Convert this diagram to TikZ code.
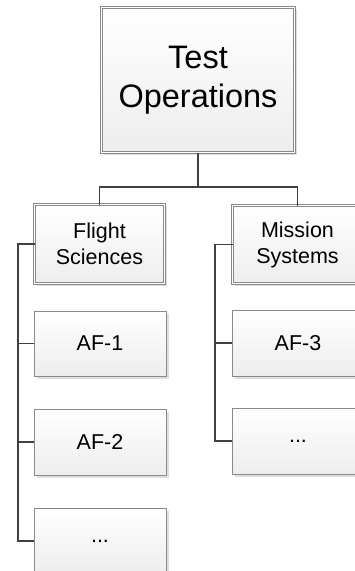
\documentclass[tikz,border=0pt]{standalone}
\usepackage{fontspec}
\setmainfont{Liberation Sans}
\usetikzlibrary{shadows}
\definecolor{linegray}{HTML}{8A8A8A}
\definecolor{conngray}{HTML}{404040}
\tikzset{
  box/.style={draw=linegray, line width=0.8pt, top color=white, bottom color=black!7,
    inner sep=0pt, outer sep=0pt, align=center, text=black,
    drop shadow={shadow xshift=2.5pt, shadow yshift=-2.5pt, fill=black, opacity=0.13}},
  dbox/.style={box, double=white, double distance=1.8pt},
  bigtext/.style={font=\fontsize{32.5}{39}\selectfont},
  midtext/.style={font=\fontsize{21.5}{26}\selectfont},
  conn/.style={draw=conngray, line width=1.6pt}
}
\begin{document}
\begin{tikzpicture}[x=1pt, y=-1pt]
\useasboundingbox (0,0) rectangle (355,571);
\clip (0,0) rectangle (355,571);
% nodes
\node[dbox, bigtext, minimum width=193pt, minimum height=145pt] (top) at (198,80) {Test\\Operations};
\node[dbox, midtext, minimum width=130pt, minimum height=79pt] (fs) at (99.5,244) {Flight\\Sciences};
\node[dbox, midtext, minimum width=130pt, minimum height=78pt] (ms) at (297.5,244.5) {Mission\\Systems};
\node[box, midtext, minimum width=132pt, minimum height=65pt] (af1) at (100,343.5) {AF-1};
\node[box, midtext, minimum width=132pt, minimum height=66pt] (af2) at (100,442) {AF-2};
\node[box, midtext, minimum width=132pt, minimum height=66pt] (dl) at (100,541) {...};
\node[box, midtext, minimum width=132pt, minimum height=66pt] (af3) at (298,343) {AF-3};
\node[box, midtext, minimum width=132pt, minimum height=66pt] (dr) at (298,441) {...};
% connector coordinates
\coordinate (bar) at (198,187);
\coordinate (ls) at (18,0);
\coordinate (rs) at (215,0);
% connectors
\draw[conn] (top.south) -- (top.south |- bar);
\draw[conn] (fs.north) |- (bar) -| (ms.north);
\draw[conn] (fs.west) -- (fs.west -| ls) |- (dl.west);
\draw[conn] (af1.west -| ls) -- (af1.west);
\draw[conn] (af2.west -| ls) -- (af2.west);
\draw[conn] (ms.west) -- (ms.west -| rs) |- (dr.west);
\draw[conn] (af3.west -| rs) -- (af3.west);
\end{tikzpicture}
\end{document}
